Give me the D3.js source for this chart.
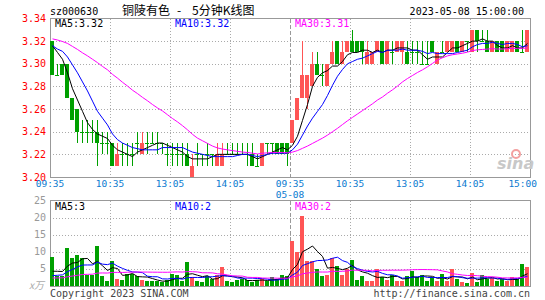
<!DOCTYPE html>
<html>
<head>
<meta charset="utf-8">
<script src="https://cdn.jsdelivr.net/npm/d3@7"></script>
<style>
body{margin:0;background:#fff}
svg{display:block}
text{font-family:"DejaVu Sans Mono",monospace;font-size:10px}
</style>
</head>
<body>
<svg id="chart" width="545" height="300"></svg>
<script>
// 5 minute bars, 05-05 and 05-08, 48 bars each
var opens = [3.32,3.29,3.30,3.30,3.27,3.26,3.24,3.24,3.24,3.24,3.23,3.23,3.23,3.21,3.22,3.22,3.22,3.23,3.22,3.23,3.23,3.23,3.23,3.22,
  3.22,3.22,3.22,3.22,3.20,3.22,3.22,3.22,3.22,3.21,3.21,3.22,3.22,3.22,3.22,3.22,3.22,3.21,3.21,3.23,3.23,3.23,3.23,3.23,
  3.23,3.25,3.27,3.27,3.28,3.30,3.29,3.28,3.30,3.32,3.30,3.31,3.32,3.32,3.32,3.30,3.30,3.31,3.32,3.30,3.31,3.31,3.31,3.31,
  3.31,3.31,3.30,3.30,3.32,3.30,3.31,3.31,3.31,3.32,3.31,3.32,3.31,3.33,3.32,3.32,3.31,3.32,3.32,3.31,3.31,3.32,3.31,3.31];
var highs = [3.32,3.30,3.30,3.30,3.27,3.26,3.25,3.25,3.25,3.25,3.24,3.24,3.23,3.23,3.23,3.23,3.23,3.24,3.24,3.24,3.24,3.24,3.23,3.23,
  3.23,3.23,3.23,3.23,3.22,3.23,3.22,3.23,3.22,3.23,3.23,3.23,3.23,3.23,3.23,3.23,3.23,3.22,3.23,3.23,3.23,3.23,3.23,3.23,
  3.25,3.27,3.32,3.29,3.31,3.31,3.30,3.30,3.32,3.32,3.32,3.32,3.33,3.32,3.32,3.32,3.31,3.32,3.32,3.32,3.32,3.32,3.32,3.32,
  3.32,3.32,3.32,3.32,3.32,3.31,3.32,3.32,3.32,3.32,3.32,3.32,3.33,3.33,3.33,3.33,3.32,3.32,3.32,3.32,3.32,3.32,3.33,3.33];
var lows = [3.29,3.29,3.29,3.27,3.25,3.23,3.23,3.23,3.23,3.21,3.22,3.22,3.21,3.21,3.21,3.21,3.21,3.22,3.22,3.22,3.23,3.22,3.22,3.21,
  3.21,3.21,3.21,3.21,3.20,3.21,3.21,3.21,3.21,3.21,3.21,3.22,3.22,3.22,3.22,3.21,3.21,3.21,3.21,3.22,3.22,3.22,3.22,3.21,
  3.23,3.25,3.27,3.26,3.28,3.29,3.28,3.28,3.30,3.30,3.30,3.31,3.31,3.31,3.30,3.30,3.30,3.31,3.30,3.30,3.30,3.31,3.30,3.30,
  3.30,3.30,3.30,3.30,3.31,3.30,3.31,3.31,3.31,3.31,3.31,3.31,3.31,3.31,3.32,3.31,3.31,3.31,3.31,3.31,3.31,3.31,3.31,3.31];
var closes = [3.29,3.29,3.29,3.27,3.25,3.24,3.24,3.24,3.24,3.23,3.23,3.23,3.21,3.22,3.22,3.22,3.22,3.23,3.23,3.23,3.23,3.23,3.23,3.22,
  3.22,3.22,3.22,3.21,3.21,3.22,3.22,3.22,3.22,3.22,3.22,3.22,3.22,3.22,3.22,3.22,3.21,3.21,3.23,3.23,3.23,3.22,3.22,3.22,
  3.25,3.27,3.29,3.29,3.30,3.29,3.29,3.30,3.31,3.30,3.31,3.32,3.31,3.31,3.31,3.31,3.31,3.32,3.30,3.32,3.31,3.32,3.32,3.30,
  3.31,3.31,3.30,3.30,3.31,3.31,3.31,3.32,3.32,3.31,3.32,3.32,3.33,3.32,3.32,3.31,3.32,3.31,3.31,3.32,3.32,3.31,3.31,3.33];
// volume, 万
var volumes = [8.3,2.7,2.7,11.1,8.2,9.1,8.2,3.2,3.2,11.7,2.7,1.3,7.3,2.0,1.6,3.4,3.4,2.7,1.6,1.3,1.2,1.2,1.1,1.6,
  3.5,3.2,1.2,7.0,2.4,1.3,1.1,2.7,1.9,3.1,5.5,1.2,1.1,1.6,1.9,1.6,1.0,1.6,1.9,1.3,2.4,1.9,3.2,2.7,
  13.2,10.0,20.5,7.1,7.3,5.0,2.9,3.2,8.2,5.8,3.2,4.9,7.6,1.6,2.7,1.3,1.3,4.9,2.4,1.6,3.2,1.3,1.2,2.9,
  4.2,2.4,3.2,1.3,2.4,1.2,3.4,1.2,4.9,1.9,1.1,0.7,3.7,1.1,3.2,1.9,2.1,1.2,1.9,1.3,2.4,1.9,6.4,5.3];
// last bars of the session before (needed for the moving averages at the left edge)
var prevCloses = [3.32,3.33,3.32,3.33,3.32,3.33,3.32,3.33,3.32,3.33,3.32,3.33,3.32,3.33,3.32,3.33,3.32,3.33,3.32,3.33,
  3.32,3.31,3.32,3.32,3.31,3.32,3.32,3.33,3.32];
var prevVolumes = [1.8,2.0,1.5,1.9,2.2,1.6,1.7,2.1,1.8,1.5,2.0,1.9,1.7,2.3,1.6,1.8,2.0,1.9,1.7,2.0,
  1.6,1.5,1.7,1.6,1.6,2.8,3.0,3.2,3.7];

var priceTicks = [3.20,3.22,3.24,3.26,3.28,3.30,3.32,3.34];
var volTicks = [0,5,10,15,20,25];
var timeLabels = [[0,"09:35"],[12,"10:35"],[24,"13:05"],[36,"14:05"],[48,"09:35"],[60,"10:35"],[72,"13:05"],[84,"14:05"]];
var gridIdx = [12,24,36,60,72,84];
var maPeriods = [5,10,30];
var maColors = ["#000","#0000ff","#ff00ff"];
var priceMaLast = ["3.32","3.32","3.31"];
var volMaLast = ["3","2","2"];

var svg = d3.select("#chart");
var L = 50, R = 530;
var n = closes.length;
var x = d3.scaleLinear().domain([0, n]).range([L, R]);
var yP = d3.scaleLinear().domain([3.20, 3.34]).range([177, 18.5]);
var yV = d3.scaleLinear().domain([0, 25]).range([285.5, 200.5]);
var red = "#ff5555", green = "#00a000";

function ma(vals, prev, p) {
  var all = prev.concat(vals), off = prev.length;
  return vals.map(function(v, i) {
    var s = 0;
    for (var k = off + i - p + 1; k <= off + i; k++) s += all[k];
    return s / p;
  });
}
function cx(i) { return x(i) + 2.5; }
function col(i) { return closes[i] > opens[i] ? red : green; }

// titles
svg.append("text").attr("x", 50).attr("y", 15).text("sz000630");
var cjk = "'Noto Sans CJK SC',sans-serif";
svg.append("text").attr("x", 122).attr("y", 15).style("font-family", cjk).style("font-size", "12px").text("铜陵有色");
svg.append("text").attr("x", 177).attr("y", 15).style("font-family", cjk).style("font-size", "12px").text("-");
svg.append("text").attr("x", 192).attr("y", 15).style("font-family", cjk).style("font-size", "12px").text("5分钟K线图");
svg.append("text").attr("x", 524).attr("y", 15).attr("text-anchor", "end").text("2023-05-08 15:00:00");

function panel(top, bot, ticks, yS) {
  var g = svg.append("g").attr("shape-rendering", "crispEdges");
  g.selectAll(".h").data(ticks.slice(1, -1)).enter().append("line")
    .attr("x1", L).attr("x2", R)
    .attr("y1", function(d) { return Math.round(yS(d)) + 0.5; })
    .attr("y2", function(d) { return Math.round(yS(d)) + 0.5; })
    .attr("stroke", "#aaa").attr("stroke-dasharray", "1,2");
  g.selectAll(".v").data(gridIdx).enter().append("line")
    .attr("x1", function(d) { return x(d) + 0.5; }).attr("x2", function(d) { return x(d) + 0.5; })
    .attr("y1", top).attr("y2", bot)
    .attr("stroke", "#aaa").attr("stroke-dasharray", "1,2");
  g.append("line").attr("x1", x(48) + 0.5).attr("x2", x(48) + 0.5).attr("y1", top).attr("y2", bot)
    .attr("stroke", "#999").attr("stroke-dasharray", "4,2");
  g.append("rect").attr("x", L + 0.5).attr("y", top).attr("width", R - L).attr("height", bot - top)
    .attr("fill", "none").attr("stroke", "#999");
}
panel(18.5, 177.5, priceTicks, yP);
panel(200.5, 286.5, volTicks, yV);

svg.selectAll(".pl").data(priceTicks).enter().append("text")
  .attr("x", 46).attr("y", function(d) { return yP(d) + 3.5; }).attr("text-anchor", "end")
  .attr("fill", "#f00").style("font-size", "10px").text(function(d) { return d.toFixed(2); });
svg.selectAll(".vl").data(volTicks.slice(1)).enter().append("text")
  .attr("x", 46).attr("y", function(d) { return yV(d) + 3.5; }).attr("text-anchor", "end")
  .attr("fill", "#999").style("font-size", "10px").text(function(d) { return d; });
svg.append("text").attr("x", 44).attr("y", 289).attr("text-anchor", "end").attr("fill", "#aaa")
  .style("font-family", cjk).style("font-style", "italic").text("x万");

svg.selectAll(".tl").data(timeLabels).enter().append("text")
  .attr("x", function(d) { return x(d[0]); }).attr("y", 187).attr("text-anchor", "middle")
  .attr("fill", "#0a7ad0").style("font-size", "9.5px").text(function(d) { return d[1]; });
svg.append("text").attr("x", 537).attr("y", 187).attr("text-anchor", "end")
  .attr("fill", "#0a7ad0").style("font-size", "9.5px").text("15:00");
svg.append("text").attr("x", x(48)).attr("y", 198).attr("text-anchor", "middle")
  .attr("fill", "#0a7ad0").style("font-size", "9.5px").text("05-08");

// sina mark
svg.append("circle").attr("cx", 516).attr("cy", 154).attr("r", 4).attr("fill", "none").attr("stroke", "#f3a0a0").attr("stroke-width", 2);
svg.append("text").attr("x", 497).attr("y", 169).attr("fill", "#c8c8c8")
  .style("font-family", "'DejaVu Sans',sans-serif").style("font-size", "16px").style("font-weight", "bold").style("font-style", "italic").text("sina");

// candles
var idx = d3.range(n);
var cg = svg.append("g").attr("shape-rendering", "crispEdges");
cg.selectAll(".w").data(idx).enter().append("rect")
  .attr("x", function(i) { return x(i) + 2; }).attr("width", 1)
  .attr("y", function(i) { return Math.round(yP(highs[i])); })
  .attr("height", function(i) { return Math.max(1, Math.round(yP(lows[i])) - Math.round(yP(highs[i]))); })
  .attr("fill", col);
cg.selectAll(".b").data(idx).enter().append("rect")
  .attr("x", function(i) { return x(i); }).attr("width", 4)
  .attr("y", function(i) { return Math.round(yP(Math.max(opens[i], closes[i]))); })
  .attr("height", function(i) { return Math.max(1, Math.round(yP(Math.min(opens[i], closes[i]))) - Math.round(yP(Math.max(opens[i], closes[i])))); })
  .attr("fill", col);

// volume bars
cg.selectAll(".vb").data(idx).enter().append("rect")
  .attr("x", function(i) { return x(i); }).attr("width", 4)
  .attr("y", function(i) { return Math.round(yV(volumes[i])); })
  .attr("height", function(i) { return 286 - Math.round(yV(volumes[i])); })
  .attr("fill", col);

// moving averages
maPeriods.forEach(function(p, k) {
  var pm = ma(closes, prevCloses, p), vm = ma(volumes, prevVolumes, p);
  svg.append("path").datum(pm).attr("fill", "none").attr("stroke", maColors[k]).attr("stroke-width", 1)
    .attr("d", d3.line().x(function(d, i) { return cx(i); }).y(function(d) { return yP(d); }));
  svg.append("path").datum(vm).attr("fill", "none").attr("stroke", maColors[k]).attr("stroke-width", 1)
    .attr("d", d3.line().x(function(d, i) { return cx(i); }).y(function(d) { return yV(d); }));
  svg.append("text").attr("x", 55 + 120 * k).attr("y", 27).attr("fill", maColors[k])
    .text("MA" + p + ":" + priceMaLast[k]);
  svg.append("text").attr("x", 55 + 120 * k).attr("y", 210).attr("fill", maColors[k])
    .text("MA" + p + ":" + volMaLast[k]);
});

svg.append("text").attr("x", 50).attr("y", 297).attr("fill", "#444").text("Copyright 2023 SINA.COM");
svg.append("text").attr("x", 530).attr("y", 297).attr("text-anchor", "end").attr("fill", "#444").text("http://finance.sina.com.cn");
</script>
</body>
</html>
